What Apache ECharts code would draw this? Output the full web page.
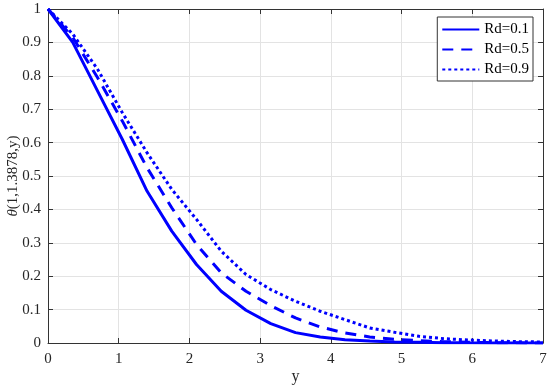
<!DOCTYPE html>
<html><head><meta charset="utf-8">
<script src="https://cdn.jsdelivr.net/npm/echarts@6/dist/echarts.min.js"></script>
<style>html,body{margin:0;padding:0;background:#fff}#c{width:550px;height:388px}</style>
</head><body><div id="c"></div>
<script>
const yVals = [0,0.35,0.7,1.05,1.4,1.75,2.1,2.45,2.8,3.15,3.5,3.85,4.2,4.55,4.9,5.25,5.6,5.95,6.3,6.65,7];
const rd01 = [1,0.90,0.755,0.61,0.455,0.335,0.235,0.155,0.098,0.058,0.031,0.018,0.010,0.006,0.003,0.002,0.001,0.0005,0.0003,0.0001,0];
const rd05 = [1,0.915,0.795,0.665,0.525,0.405,0.295,0.21,0.155,0.112,0.075,0.048,0.03,0.018,0.011,0.007,0.004,0.002,0.001,0.0005,0];
const rd09 = [1,0.925,0.82,0.69,0.57,0.46,0.37,0.275,0.205,0.16,0.125,0.095,0.07,0.045,0.032,0.02,0.013,0.009,0.006,0.004,0.003];
const seriesNames = ['Rd=0.1','Rd=0.5','Rd=0.9'];
const xTicks = [0,1,2,3,4,5,6,7];
const yTicks = [0,0.1,0.2,0.3,0.4,0.5,0.6,0.7,0.8,0.9,1];

const font = 'Liberation Serif';
const axisCol = '#333';
const pair = (arr) => yVals.map((x,i)=>[x,arr[i]]);
const baseAxis = {
  axisLine:{show:true,onZero:false,lineStyle:{color:axisCol,width:1}},
  axisTick:{show:true,inside:true,length:5,lineStyle:{color:axisCol}},
  axisLabel:{color:'#262626',fontFamily:font,fontSize:15},
};
const chart = echarts.init(document.getElementById('c'));
chart.setOption({
  animation:false,
  backgroundColor:'#fff',
  grid:{left:48,right:7,top:9,bottom:45,containLabel:false,outerBoundsMode:'none'},
  legend:{
    right:17, top:17, orient:'vertical',
    backgroundColor:'#fff', borderColor:'#333', borderWidth:1,
    padding:[5,4,4,4], itemGap:5, itemWidth:37, itemHeight:14,
    itemStyle:{opacity:0},
    textStyle:{fontFamily:font,fontSize:15,color:'#000'},
    data:seriesNames
  },
  xAxis:[
    Object.assign({},baseAxis,{type:'value',min:0,max:7,interval:1,position:'bottom',
      name:'y',nameLocation:'middle',nameGap:26,nameMoveOverlap:false,
      nameTextStyle:{fontFamily:font,fontSize:16,color:'#262626'},
      axisLabel:Object.assign({},baseAxis.axisLabel,{margin:9,formatter:(v)=>xTicks.includes(v)?String(v):''}),
      splitLine:{show:true,lineStyle:{color:'#e3e3e3',width:1}}}),
    Object.assign({},baseAxis,{type:'value',min:0,max:7,interval:1,position:'top',
      axisLabel:{show:false},splitLine:{show:false}})
  ],
  yAxis:[
    Object.assign({},baseAxis,{type:'value',min:0,max:1,interval:0.1,position:'left',
      name:'{i|θ}(1,1.3878,y)',nameLocation:'middle',nameGap:27,nameRotate:90,nameMoveOverlap:false,
      nameTextStyle:{fontFamily:font,fontSize:15,color:'#262626',
        rich:{i:{fontFamily:font,fontSize:15,fontStyle:'italic',color:'#262626'}}},
      axisLabel:Object.assign({},baseAxis.axisLabel,{margin:7,formatter:(v)=>{const r=Math.round(v*10)/10;return yTicks.includes(r)?String(r):'';}}),
      splitLine:{show:true,lineStyle:{color:'#e3e3e3',width:1}}}),
    Object.assign({},baseAxis,{type:'value',min:0,max:1,interval:0.1,position:'right',
      axisLabel:{show:false},splitLine:{show:false}})
  ],
  series:[
    {name:seriesNames[0],type:'line',data:pair(rd01),showSymbol:false,symbol:'none',
      lineStyle:{color:'#0000ff',width:3,type:'solid'},itemStyle:{color:'#0000ff'}},
    {name:seriesNames[1],type:'line',data:pair(rd05),showSymbol:false,symbol:'none',
      lineStyle:{color:'#0000ff',width:3,type:[11,8]},itemStyle:{color:'#0000ff'}},
    {name:seriesNames[2],type:'line',data:pair(rd09),showSymbol:false,symbol:'none',
      lineStyle:{color:'#0000ff',width:3,type:[3,3]},itemStyle:{color:'#0000ff'}}
  ]
});
</script></body></html>
